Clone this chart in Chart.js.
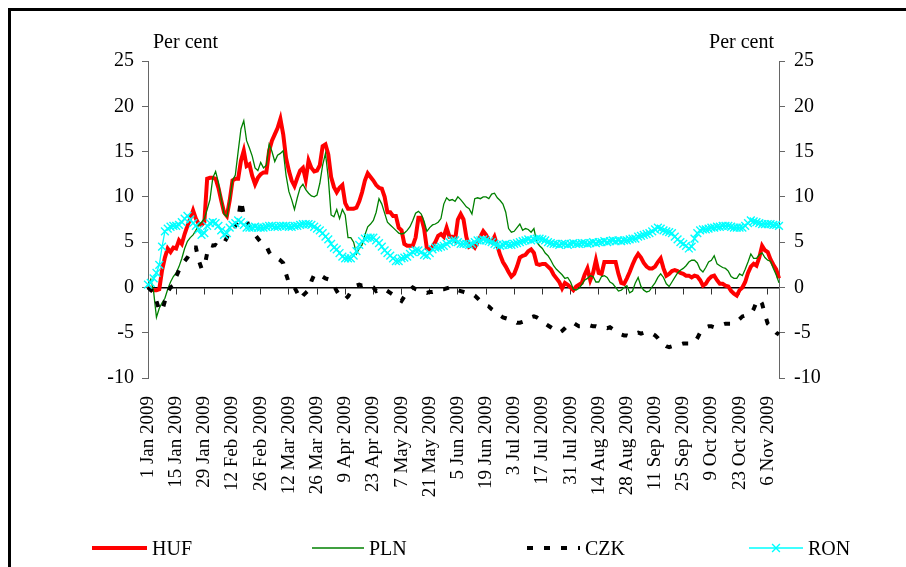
<!DOCTYPE html>
<html><head><meta charset="utf-8">
<script src="https://cdn.jsdelivr.net/npm/chart.js@4.4.1/dist/chart.umd.min.js"></script>
<style>
html,body{margin:0;padding:0;background:#fff;overflow:hidden;}
#wrap{position:relative;width:906px;height:567px;overflow:hidden;}
#frame{position:absolute;left:8px;top:8px;width:1000px;height:1000px;border:3px solid #000;box-sizing:border-box;pointer-events:none;}
canvas{position:absolute;left:0;top:0;}
</style></head><body>
<div id="wrap"><canvas id="c" width="906" height="567"></canvas><div id="frame"></div></div>
<script>
// Tick labels shown every 10 business days
const tickLabels = ['1 Jan 2009','15 Jan 2009','29 Jan 2009','12 Feb 2009','26 Feb 2009','12 Mar 2009','26 Mar 2009','9 Apr 2009','23 Apr 2009','7 May 2009','21 May 2009','5 Jun 2009','19 Jun 2009','3 Jul 2009','17 Jul 2009','31 Jul 2009','14 Aug 2009','28 Aug 2009','11 Sep 2009','25 Sep 2009','9 Oct 2009','23 Oct 2009','6 Nov 2009'];

const seriesNames = ['HUF','PLN','CZK','RON'];

const huf = [0.2,-0.2,-0.3,-0.3,-0.2,1.9,3.3,4.3,3.9,4.4,
 4.3,5.2,4.8,5.9,6.8,7.6,8.5,7.6,7.0,6.9,
 7.2,12.0,12.1,12.1,12.0,11.0,9.6,8.3,7.9,9.6,
 11.8,12.0,12.0,14.0,15.1,13.4,13.6,12.3,11.4,12.1,
 12.5,12.7,12.7,15.1,16.2,16.9,17.6,18.6,16.9,14.3,
 12.9,11.8,11.2,12.1,12.9,13.2,11.9,14.0,13.2,12.8,
 12.9,13.5,15.6,15.8,14.7,12.2,11.1,10.5,11.0,11.3,
 9.3,8.7,8.7,8.7,8.8,9.5,10.5,11.8,12.6,12.2,
 11.8,11.3,11.0,10.9,10.0,8.3,8.3,7.9,7.9,6.6,
 6.3,4.8,4.6,4.6,4.6,5.5,7.7,7.7,6.5,4.3,
 4.2,4.5,5.0,5.7,5.9,5.6,6.6,5.6,5.6,5.2,
 7.5,8.1,7.5,5.6,4.5,4.7,4.4,5.0,5.6,6.2,
 5.8,5.2,5.0,5.6,4.6,3.6,2.8,2.3,1.7,1.2,
 1.5,2.3,3.3,3.5,3.6,4.0,4.2,3.8,2.6,2.5,
 2.6,2.6,2.3,2.0,1.4,1.0,0.6,-0.1,0.5,0.3,
 0.0,-0.3,0.1,0.3,0.5,1.4,2.1,0.8,1.6,3.0,
 1.6,1.5,2.8,2.8,2.8,2.8,2.8,1.5,0.5,0.4,
 1.0,1.7,2.5,3.2,3.7,3.3,2.7,2.3,2.1,2.1,
 2.3,2.8,3.2,2.1,1.3,1.5,1.8,1.9,1.8,1.6,
 1.5,1.3,1.3,1.1,1.3,1.2,0.8,0.2,0.4,0.9,
 1.2,1.3,0.8,0.4,0.4,0.2,0.1,-0.4,-0.7,-0.9,
 -0.3,0.0,0.6,1.6,2.3,2.6,2.4,3.3,4.6,4.1,
 3.9,3.1,2.5,2.0,1.0];

const pln = [0.2,0.9,-0.5,-3.3,-2.3,-1.7,-1.2,-0.2,0.6,1.2,
 1.6,2.3,3.2,4.3,5.1,5.5,5.8,6.3,6.9,7.2,
 7.6,8.6,9.7,12.1,12.8,11.6,9.8,8.1,7.8,9.6,
 11.8,12.4,15.0,17.5,18.4,16.2,15.4,14.5,13.2,12.9,
 13.8,13.2,13.5,15.8,15.0,13.9,14.6,14.8,15.1,12.4,
 10.6,9.7,8.6,9.9,11.0,11.4,10.8,10.4,10.1,10.0,
 10.2,11.5,13.5,14.8,12.1,8.0,7.8,8.6,7.6,8.6,
 8.0,5.5,5.5,5.0,3.7,4.3,4.7,5.8,6.7,7.0,
 7.4,8.3,9.8,9.2,8.2,7.2,6.9,6.6,6.3,6.0,
 5.9,6.0,6.3,6.7,7.4,8.2,8.4,8.1,7.3,6.2,
 6.6,6.9,7.0,7.2,7.6,9.2,9.9,9.6,9.7,9.5,
 10.0,9.7,9.3,8.9,8.7,8.1,9.8,9.9,9.8,10.0,
 10.0,9.8,10.3,10.4,9.9,9.6,9.2,8.3,6.5,6.1,
 6.2,6.6,7.0,6.3,6.5,6.4,6.1,6.5,5.0,4.6,
 4.3,3.8,3.5,3.0,2.4,2.0,1.7,1.4,1.0,1.1,
 0.6,-0.2,-0.3,-0.1,0.3,0.8,1.0,1.3,1.2,0.6,
 0.6,1.2,1.3,1.1,0.6,0.4,0.0,-0.4,-0.3,0.0,
 0.2,-0.6,-0.4,0.5,1.1,0.1,-0.3,-0.5,-0.4,0.1,
 0.5,1.1,1.5,1.1,0.4,0.1,0.6,1.1,1.6,1.9,
 2.1,2.4,2.8,3.0,3.0,2.7,2.0,1.7,2.2,2.8,
 3.0,3.5,2.6,2.4,2.2,2.1,1.8,1.2,1.0,1.0,
 1.5,1.3,2.0,2.8,3.7,3.2,3.2,3.6,3.8,3.3,
 3.0,2.9,2.1,1.4,0.5];

const czk = [0.0,-0.3,-0.5,-1.5,-2.5,-2.6,-1.5,-0.5,0.0,0.2,
 1.2,1.9,2.3,2.9,3.3,3.8,4.4,4.4,3.0,2.1,
 2.2,3.8,4.7,4.6,4.7,4.5,4.6,4.9,5.5,6.2,
 6.7,6.8,7.5,9.6,8.0,7.4,6.6,6.2,5.8,5.4,
 5.0,4.9,4.6,3.9,3.5,3.4,3.2,3.0,2.7,1.5,
 0.5,0.4,0.0,-0.6,-1.3,-0.9,-0.6,-0.3,0.7,1.4,
 1.5,1.4,1.2,1.0,0.9,0.7,0.2,-0.4,-0.9,-1.1,
 -1.3,-1.0,-0.5,-0.1,0.2,0.3,0.2,0.3,0.2,0.1,
 0.0,-0.4,-0.3,-0.1,-0.2,-0.4,-0.6,-0.8,-0.9,-1.3,
 -1.5,-1.0,-0.6,-0.3,0.0,-0.2,-0.3,-0.4,-0.5,-0.6,
 -0.5,-0.5,-0.4,-0.3,-0.2,-0.2,-0.1,0.0,0.1,-0.1,
 -0.3,-0.4,-0.5,-0.6,-0.6,-0.7,-0.9,-1.2,-1.5,-1.8,
 -2.0,-2.1,-2.4,-2.6,-2.9,-3.1,-3.3,-3.4,-3.5,-3.6,
 -3.7,-3.9,-3.9,-3.8,-3.6,-3.4,-3.3,-3.2,-3.3,-3.5,
 -3.8,-4.0,-4.2,-4.4,-4.6,-4.8,-5.0,-4.8,-4.5,-4.2,
 -4.0,-3.9,-4.1,-4.3,-4.3,-4.2,-4.1,-4.2,-4.3,-4.3,
 -4.4,-4.4,-4.4,-4.5,-4.4,-4.6,-4.8,-5.0,-5.2,-5.3,
 -5.3,-5.4,-5.3,-5.1,-5.0,-5.1,-5.0,-4.9,-5.0,-5.1,
 -5.3,-5.6,-6.0,-6.3,-6.5,-6.6,-6.5,-6.4,-6.3,-6.3,
 -6.2,-6.2,-6.2,-6.2,-6.1,-5.6,-5.0,-4.6,-4.4,-4.3,
 -4.3,-4.4,-4.3,-4.2,-4.1,-4.0,-4.0,-4.0,-4.0,-3.8,
 -3.5,-3.2,-3.1,-3.0,-2.9,-2.4,-1.6,-1.3,-1.8,-3.0,
 -4.0,-4.3,-4.7,-5.0,-5.2];

const ron = [0.3,0.5,1.0,1.6,2.5,4.5,6.2,6.5,6.7,6.8,
 6.8,6.9,7.2,7.6,7.9,7.5,7.1,6.8,6.4,5.8,
 6.0,6.8,7.1,7.2,7.1,6.8,6.3,5.8,6.0,6.6,
 6.9,7.1,7.4,7.2,6.9,6.6,6.6,6.6,6.7,6.6,
 6.6,6.6,6.7,6.8,6.8,6.7,6.7,6.8,6.8,6.8,
 6.7,6.7,6.8,6.8,6.9,7.0,7.0,7.0,6.9,6.7,
 6.5,6.3,6.0,5.6,5.3,4.8,4.4,4.2,3.8,3.4,
 3.2,3.2,3.2,3.5,4.0,4.7,5.1,5.4,5.5,5.5,
 5.5,5.2,4.9,4.5,4.1,3.8,3.5,3.2,2.9,2.9,
 3.2,3.3,3.4,3.7,3.9,4.1,4.1,3.9,3.6,3.5,
 3.8,4.2,4.4,4.4,4.5,4.6,4.8,5.0,5.2,5.2,
 5.0,4.8,4.8,4.8,4.7,4.8,5.0,5.2,5.2,5.3,
 5.2,5.1,5.0,4.8,4.7,4.6,4.7,4.8,4.7,4.7,
 4.8,4.9,5.0,5.1,5.2,5.3,5.2,5.3,5.4,5.4,
 5.3,5.2,5.0,4.9,4.8,4.8,4.7,4.8,4.8,4.7,
 4.8,4.9,4.8,4.8,4.9,4.9,4.8,4.9,5.0,4.9,
 5.0,5.0,5.1,5.0,5.1,5.2,5.1,5.2,5.1,5.2,
 5.2,5.3,5.4,5.4,5.6,5.7,5.8,5.9,6.0,6.2,
 6.4,6.6,6.5,6.3,6.2,6.1,6.0,5.6,5.3,5.0,
 4.8,4.6,4.3,4.5,5.4,6.0,6.3,6.4,6.4,6.5,
 6.6,6.6,6.7,6.7,6.8,6.8,6.8,6.7,6.6,6.6,
 6.6,6.6,6.8,7.1,7.4,7.3,7.2,7.1,7.0,7.0,
 7.0,7.0,6.9,6.9,6.8];

const yTicks = [-10,-5,0,5,10,15,20,25];
const tickEvery = 10;

// category index for every business day in the series
const categories = huf.map((_, i) => i % tickEvery === 0 ? tickLabels[i / tickEvery] : '');

const FONT = '"Liberation Serif", "Times New Roman", serif';
Chart.defaults.font.family = FONT;
Chart.defaults.font.size = 20;
Chart.defaults.color = '#000';

const keepEvery = s => { s.ticks = s.ticks.filter(t => t.value % tickEvery === 0); };

const extras = {
  id: 'extras',
  afterDraw(chart) {
    const ctx = chart.ctx, a = chart.chartArea;
    ctx.save();
    ctx.font = '20px ' + FONT;
    ctx.fillStyle = '#000';
    ctx.textBaseline = 'alphabetic';
    ctx.textAlign = 'left';
    ctx.fillText('Per cent', a.left + 5, a.top - 13);
    ctx.textAlign = 'right';
    ctx.fillText('Per cent', a.right - 5, a.top - 13);
    // legend
    const spec = [{x0: 92, x1: 147}, {x0: 312, x1: 364}, {x0: 527, x1: 580}, {x0: 749, x1: 803}];
    const ly = 548;
    chart.data.datasets.forEach((ds, i) => {
      const s = spec[i];
      ctx.save();
      ctx.strokeStyle = ds.borderColor;
      ctx.lineWidth = ds.borderWidth;
      ctx.lineCap = 'butt';
      ctx.setLineDash(ds.borderDash || []);
      ctx.beginPath();
      ctx.moveTo(s.x0, ly);
      ctx.lineTo(s.x1, ly);
      ctx.stroke();
      ctx.setLineDash([]);
      if (ds.pointRadius > 0) {
        ctx.lineWidth = ds.pointBorderWidth;
        ctx.strokeStyle = ds.pointBorderColor;
        Chart.helpers.drawPoint(ctx, {pointStyle: ds.pointStyle, radius: ds.pointRadius, borderWidth: ds.pointBorderWidth, rotation: 0}, (s.x0 + s.x1) / 2, ly);
      }
      ctx.restore();
      ctx.fillStyle = '#000';
      ctx.textAlign = 'left';
      ctx.textBaseline = 'alphabetic';
      ctx.fillText(ds.label, s.x1 + 5, ly + 7);
    });
    ctx.restore();
  }
};

new Chart(document.getElementById('c'), {
  type: 'line',
  data: {
    labels: categories,
    datasets: [
      {label: seriesNames[0], data: huf, borderColor: '#FF0000', borderWidth: 4, pointRadius: 0, tension: 0, order: 4},
      {label: seriesNames[1], data: pln, borderColor: '#008000', borderWidth: 1.3, pointRadius: 0, tension: 0, order: 3},
      {label: seriesNames[2], data: czk, borderColor: '#000000', borderWidth: 4, borderDash: [6, 11], borderCapStyle: 'butt', pointRadius: 0, tension: 0, order: 2},
      {label: seriesNames[3], data: ron, borderColor: '#00FFFF', borderWidth: 1.3, pointStyle: 'crossRot', pointRadius: 5.5, pointBorderWidth: 1.4, pointBorderColor: '#00FFFF', pointBackgroundColor: '#00FFFF', tension: 0, order: 1}
    ]
  },
  options: {
    responsive: false,
    animation: false,
    events: [],
    layout: {padding: {top: 61, bottom: 69, left: 0, right: 0}},
    plugins: {legend: {display: false}, tooltip: {enabled: false}},
    scales: {
      x: {
        type: 'category', position: 'bottom', offset: false,
        grid: {display: false, drawTicks: false}, border: {display: false},
        ticks: {autoSkip: false, maxRotation: 90, minRotation: 90, padding: 18, color: '#000', font: {size: 19},
          callback: (v) => categories[v]},
        afterBuildTicks: keepEvery,
        afterFit: s => { s.height = 120; }
      },
      x0: {
        axis: 'x', type: 'category', position: {y: 0}, offset: false,
        grid: {display: true, drawOnChartArea: false, drawTicks: true, tickLength: 6, color: '#333', lineWidth: 1},
        border: {display: true, color: '#000', width: 1.5},
        ticks: {display: false, autoSkip: false},
        afterBuildTicks: keepEvery
      },
      y: {
        position: 'left', min: yTicks[0], max: yTicks[yTicks.length - 1],
        ticks: {stepSize: 5, padding: 8, color: '#000'},
        grid: {drawOnChartArea: false, drawTicks: true, tickLength: 6, color: '#666'},
        border: {display: true, color: '#666', width: 1},
        afterFit: s => { s.width = 148; }
      },
      y2: {
        position: 'right', min: yTicks[0], max: yTicks[yTicks.length - 1],
        ticks: {stepSize: 5, padding: 9, color: '#000'},
        grid: {drawOnChartArea: false, drawTicks: true, tickLength: 6, color: '#666'},
        border: {display: true, color: '#666', width: 1},
        afterFit: s => { s.width = 127; }
      }
    }
  },
  plugins: [extras]
});
</script>
</body></html>
